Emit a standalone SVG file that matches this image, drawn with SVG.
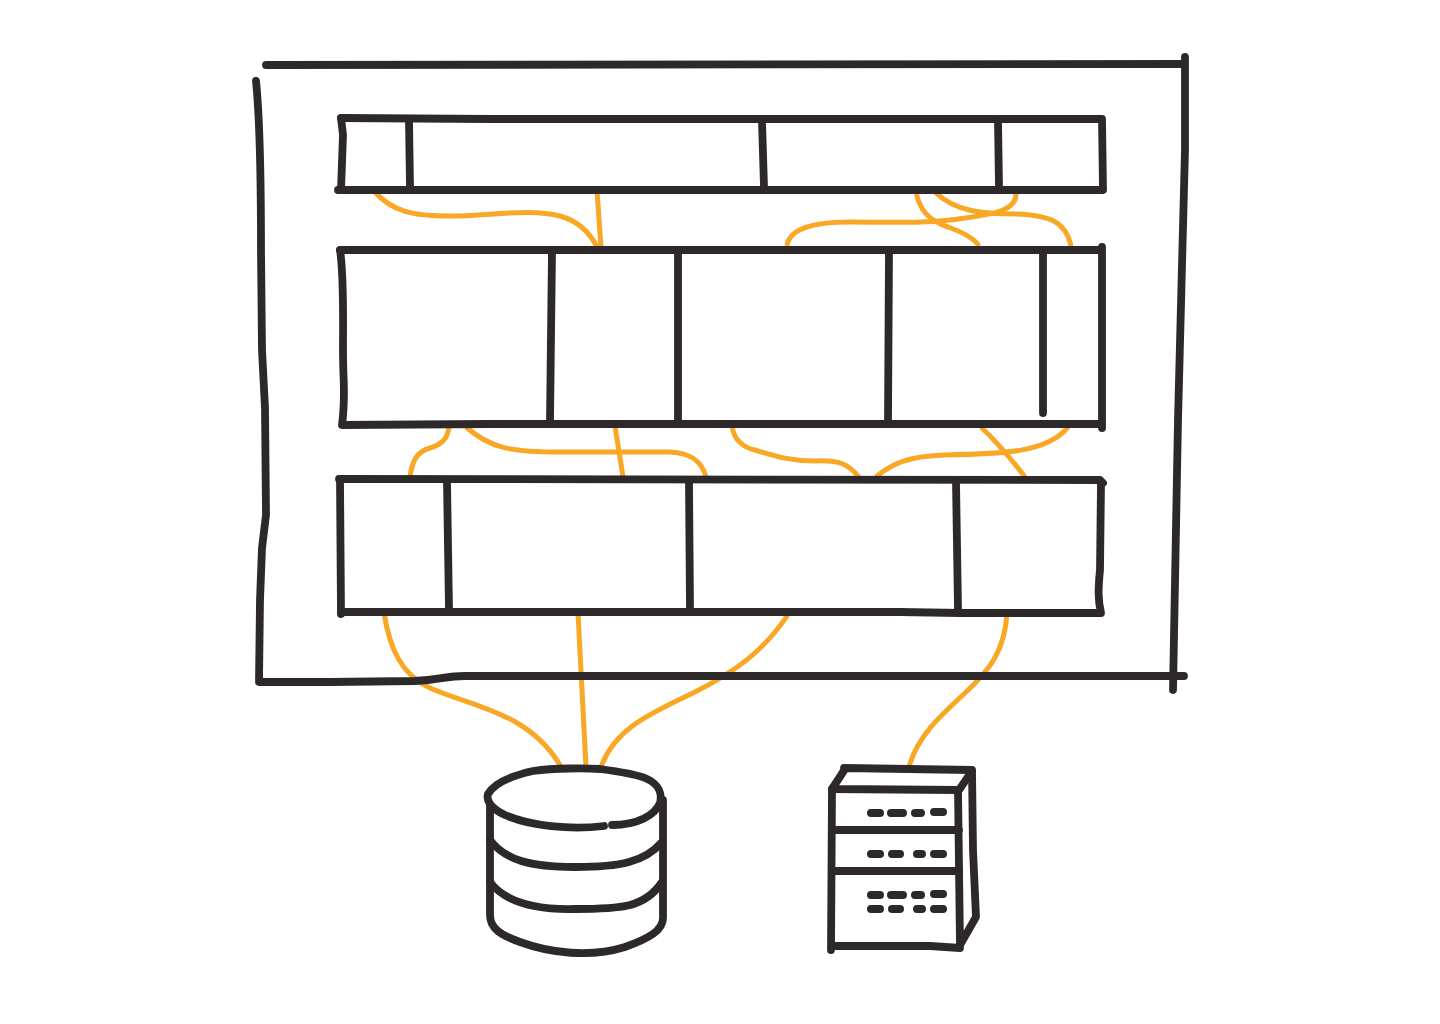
<svg xmlns="http://www.w3.org/2000/svg" width="1440" height="1024" viewBox="0 0 1440 1024">
<style>
.k{fill:none;stroke:#2d292a;stroke-width:7.8;stroke-linecap:round;stroke-linejoin:round}
.d{fill:none;stroke:#2d292a;stroke-width:8;stroke-linecap:round}
.o{fill:none;stroke:#f9a825;stroke-width:5}
</style>
<rect width="1440" height="1024" fill="#fff"/>
<g id="connectors">
<path class="o" d="M374 191C392 212 414 216 450 216C490 216 530 208 560 216C578 221 590 233 597 247"/>
<path class="o" d="M597 191L601 247"/>
<path class="o" d="M787 246C789 229 812 222 850 222C890 222 930 224 965 218C995 214 1018 210 1016 192"/>
<path class="o" d="M916 191C919 212 932 222 948 227C962 232 974 238 979 246"/>
<path class="o" d="M935 192C955 212 985 214 1015 214C1050 215 1066 222 1071 246"/>
<path class="o" d="M449 426C448 440 440 445 430 448C416 452 412 462 410 477"/>
<path class="o" d="M466 427C490 448 510 452 560 452C600 452 640 452 670 452C692 453 702 462 706 477"/>
<path class="o" d="M615 426L623 477"/>
<path class="o" d="M732 426C734 440 742 447 755 450C775 456 790 461 815 461C840 460 848 464 859 477"/>
<path class="o" d="M876 477C892 463 910 456 945 455C1000 454 1048 453 1068 427"/>
<path class="o" d="M981 427C1000 445 1012 460 1025 477"/>
<path class="o" d="M384 613C390 650 402 675 430 688C470 706 530 712 561 767"/>
<path class="o" d="M578 613L586 767"/>
<path class="o" d="M789 613C765 650 735 672 695 692C650 714 615 728 601 767"/>
<path class="o" d="M1007 613C1005 650 990 670 965 693C940 716 917 737 909 767"/>
</g>
<g id="outer-frame">
<path class="k" d="M266 65L1184 64"/>
<path class="k" d="M1185 57L1185 150L1178 420L1173 690"/>
<path class="k" d="M256 81C260 120 261 190 261 250L262 350L265 408L266 515L262 548L260 600L259 682L330 682L415 681C440 680 445 676 465 676L1184 676"/>
</g>
<g id="top-bar">
<path class="k" d="M341 118L490 119L1102 119L1103 190L338 190"/>
<path class="k" d="M341 118L343 135L341 190"/>
<path class="k" d="M409 120L410 187M762 121L764 187M998 121L999 187"/>
</g>
<g id="middle-bar">
<path class="k" d="M340 250L1102 250M1102 247L1102 428"/>
<path class="k" d="M340 250C344 275 343 320 343 350C343 385 346 395 342 425L490 424L1101 424"/>
<path class="k" d="M552 251L550 421M678 251L678 421M889 251L888 421M1043 251L1043 413"/>
</g>
<g id="bottom-bar">
<path class="k" d="M339 479L1100 480L1103 483"/>
<path class="k" d="M340 479L341 614"/>
<path class="k" d="M341 612L900 612L960 613L1101 613C1098 600 1098 590 1100 570L1101 483"/>
<path class="k" d="M447 482L449 609M689 482L690 609M956 482L958 609"/>
</g>
<g id="database">
<path class="k" d="M604 826C570 830 530 826 505 815C490 808 486 800 488 794C495 782 515 775 533 771C555 768 585 768 600 769C615 771 635 774 645 778C660 784 662 795 660 803C655 815 638 825 612 825"/>
<path class="k" d="M490 805L490 915C490 928 500 935 520 942C550 953 590 958 625 947C650 938 663 930 663 918L663 890L663 800"/>
<path class="k" d="M490 840C505 860 530 867 575 867C620 867 645 862 662 842"/>
<path class="k" d="M490 882C505 902 535 910 575 909C620 909 645 908 662 882"/>
</g>
<g id="server">
<path class="k" d="M844 768L972 770L973 850L976 917L960 945L958 790L832 789L845 769"/>
<path class="k" d="M832 789L831 950M833 830L959 830M833 871L959 871"/>
<path class="k" d="M833 946L930 946L960 948M972 771L959 790"/>
<path class="d" d="M871 813H880M891 813H903M915 813H921M934 812H943"/>
<path class="d" d="M871 854H880M892 854H900M917 854H922M934 854H943"/>
<path class="d" d="M871 895H880M891 895H903M915 895H921M934 894H943"/>
<path class="d" d="M871 909H880M892 909H900M917 909H922M934 909H943"/>
</g>
</svg>
